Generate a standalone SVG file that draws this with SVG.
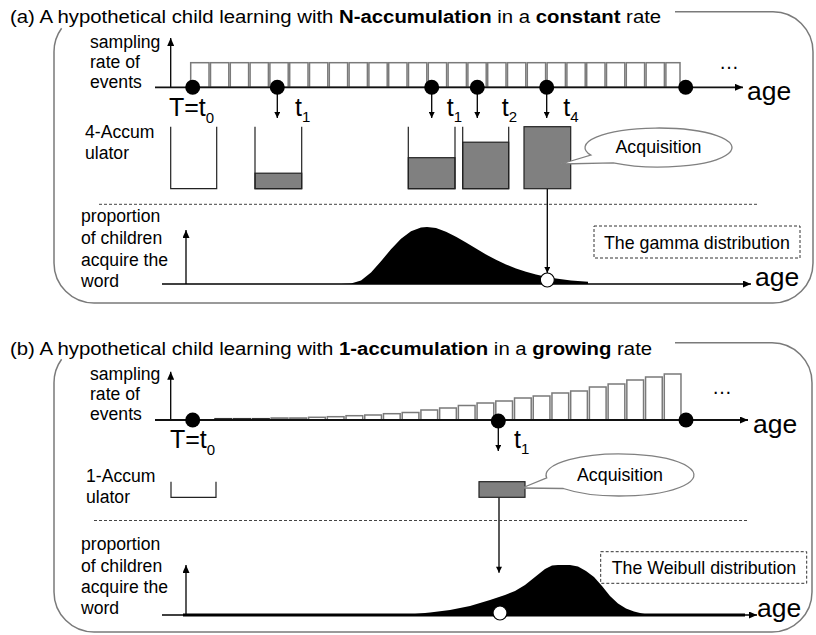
<svg xmlns="http://www.w3.org/2000/svg" width="816" height="635" viewBox="0 0 816 635">
<style>
text{font-family:"Liberation Sans",Arial,sans-serif;fill:#000}
.t{font-size:18.5px}
.l{font-size:17.6px}
.big{font-size:25px}
.sub{font-size:15px}
.age{font-size:26.5px}
.d{font-size:17.8px}
.frame{fill:none;stroke:#7a7a7a;stroke-width:1.5}
.sep{fill:none;stroke:#444;stroke-width:1;stroke-dasharray:3,2}
.bar{fill:#fff;stroke:#7a7a7a;stroke-width:1.5}
.ax{fill:none;stroke:#000;stroke-width:1.3}
.rax{fill:none;stroke:#111;stroke-width:1.8}
.cont{fill:none;stroke:#222;stroke-width:1.2}
.fill{fill:#808080;stroke:#222;stroke-width:1.2}
.dot{fill:#000}
.call{fill:#fff;stroke:#808080;stroke-width:1.3}
.box{fill:#fff;stroke:#333;stroke-width:1;stroke-dasharray:3,2}
</style>
<defs>
<marker id="ah" viewBox="0 0 8 7" refX="8" refY="3.5" markerWidth="8" markerHeight="7" markerUnits="userSpaceOnUse" orient="auto"><path d="M0,0 L8,3.5 L0,7 z" fill="#000"/></marker>
<marker id="ahs" viewBox="0 0 7 7" refX="7" refY="3.5" markerWidth="7" markerHeight="6" markerUnits="userSpaceOnUse" orient="auto"><path d="M0,0 L7,3.5 L0,7 z" fill="#000"/></marker>
</defs>
<rect width="816" height="635" fill="#fff"/>

<!-- ============ PANEL A ============ -->
<g id="panelA">
<path class="frame" d="M675 11.7 H773 A40 40 0 0 1 813 51.7 V263 A40 40 0 0 1 773 303 H94 A40 40 0 0 1 54 263 V51.7 A40 40 0 0 1 61.6 28.3"/>
<text class="t" transform="translate(10 23) scale(1.1 1)" x="0" y="0">(a) A hypothetical child learning with <tspan font-weight="bold">N-accumulation</tspan> in a <tspan font-weight="bold">constant</tspan> rate</text>
</g>

<g id="rateA">
<text class="l" x="90" y="47.5">sampling</text>
<text class="l" x="90" y="67.5">rate of</text>
<text class="l" x="90" y="87.5">events</text>
<g id="barsA">
<rect class="bar" x="190.7" y="62.7" width="18.3" height="24.6"/>
<rect class="bar" x="210.5" y="62.7" width="18.3" height="24.6"/>
<rect class="bar" x="230.3" y="62.7" width="18.3" height="24.6"/>
<rect class="bar" x="250.1" y="62.7" width="18.3" height="24.6"/>
<rect class="bar" x="269.9" y="62.7" width="18.3" height="24.6"/>
<rect class="bar" x="289.7" y="62.7" width="18.3" height="24.6"/>
<rect class="bar" x="309.5" y="62.7" width="18.3" height="24.6"/>
<rect class="bar" x="329.3" y="62.7" width="18.3" height="24.6"/>
<rect class="bar" x="349.1" y="62.7" width="18.3" height="24.6"/>
<rect class="bar" x="368.9" y="62.7" width="18.3" height="24.6"/>
<rect class="bar" x="388.7" y="62.7" width="18.3" height="24.6"/>
<rect class="bar" x="408.5" y="62.7" width="18.3" height="24.6"/>
<rect class="bar" x="428.3" y="62.7" width="18.3" height="24.6"/>
<rect class="bar" x="448.1" y="62.7" width="18.3" height="24.6"/>
<rect class="bar" x="467.9" y="62.7" width="18.3" height="24.6"/>
<rect class="bar" x="487.7" y="62.7" width="18.3" height="24.6"/>
<rect class="bar" x="507.5" y="62.7" width="18.3" height="24.6"/>
<rect class="bar" x="527.3" y="62.7" width="18.3" height="24.6"/>
<rect class="bar" x="547.1" y="62.7" width="18.3" height="24.6"/>
<rect class="bar" x="566.9" y="62.7" width="18.3" height="24.6"/>
<rect class="bar" x="586.7" y="62.7" width="18.3" height="24.6"/>
<rect class="bar" x="606.5" y="62.7" width="18.3" height="24.6"/>
<rect class="bar" x="626.3" y="62.7" width="18.3" height="24.6"/>
<rect class="bar" x="646.1" y="62.7" width="18.3" height="24.6"/>
<rect class="bar" x="665.9" y="62.7" width="14.1" height="24.6"/>
</g>
<text x="719" y="69" style="font-size:20px">…</text>
<text class="age" x="747" y="100">age</text>
</g>

<g id="connectorsA">
<path class="ax" d="M170.7 87.3 V38" marker-end="url(#ah)"/>
<path class="rax" d="M155 87.3 H743" marker-end="url(#ah)"/>
<path class="ax" d="M277.3 87.3 V118" marker-end="url(#ahs)"/>
<path class="ax" d="M431.7 87.3 V118" marker-end="url(#ahs)"/>
<path class="ax" d="M477.3 87.3 V118" marker-end="url(#ahs)"/>
<path class="ax" d="M546.7 87.3 V118" marker-end="url(#ahs)"/>
<path class="ax" d="M547.3 188.7 V273" marker-end="url(#ahs)"/>
<path class="ax" d="M186 284 V230" marker-end="url(#ah)"/>
<path class="ax" d="M162 284 H751" marker-end="url(#ah)"/>
</g>

<g id="eventsA">
<circle class="dot" cx="192.7" cy="87.3" r="7.5"/>
<circle class="dot" cx="277.3" cy="87.3" r="7.5"/>
<circle class="dot" cx="431.7" cy="87.3" r="7.5"/>
<circle class="dot" cx="477.3" cy="87.3" r="7.5"/>
<circle class="dot" cx="546.7" cy="87.3" r="7.5"/>
<circle class="dot" cx="685.7" cy="87.3" r="7.5"/>
<text class="big" x="169" y="116">T=t<tspan class="sub" dy="7">0</tspan></text>
<text class="big" x="295" y="116">t<tspan class="sub" dy="6">1</tspan></text>
<text class="big" x="446.7" y="116">t<tspan class="sub" dy="6">1</tspan></text>
<text class="big" x="501.7" y="116">t<tspan class="sub" dy="6">2</tspan></text>
<text class="big" x="563.3" y="116">t<tspan class="sub" dy="6">4</tspan></text>
</g>

<g id="accumA">
<text class="l" x="85" y="138">4-Accum</text>
<text class="l" x="85" y="159">ulator</text>
<path class="cont" d="M170.7 126.7 V188.7 H216.7 V126.7"/>
<rect class="fill" x="255" y="173.2" width="46.7" height="15.5"/>
<path class="cont" d="M255 126.7 V188.7 H301.7 V126.7"/>
<rect class="fill" x="408.3" y="157.7" width="46.7" height="31"/>
<path class="cont" d="M408.3 126.7 V188.7 H455 V126.7"/>
<rect class="fill" x="462.7" y="142.2" width="46" height="46.5"/>
<path class="cont" d="M462.7 126.7 V188.7 H508.7 V126.7"/>
<rect class="fill" x="524" y="126.7" width="46.7" height="62"/>
</g>

<g id="calloutA">
<path class="call" d="M613.25 162.87 L561 164 L590.84 155.12 A73.5 19.5 0 1 1 613.25 162.87 Z"/>
<text class="d" x="658.5" y="153" text-anchor="middle">Acquisition</text>
</g>

<path class="sep" d="M99 204.3 H758"/>

<g id="distA">
<text class="l" x="81" y="222">proportion</text>
<text class="l" x="81" y="244">of children</text>
<text class="l" x="81" y="265.5">acquire the</text>
<text class="l" x="81" y="286.5">word</text>
<path fill="#000" d="M341 284 L351 283.6 L361 280.4 L371 272.6 L381 261.3 L391 249.2 L401 238.7 L411 231.3 L421 227.6 L427 227 L436 228.1 L446 231.7 L456 236.7 L466 242.6 L476 248.6 L486 254.4 L496 259.7 L506 264.4 L516 268.4 L526 271.8 L536 274.5 L547 276.9 L556 278.5 L571 280.4 L588 281.8 L588 284 Z"/>
<circle cx="547.3" cy="280" r="7" fill="#fff" stroke="#000" stroke-width="1.2"/>
<rect class="box" x="594" y="226" width="206" height="32"/>
<text class="d" x="604" y="248.5">The gamma distribution</text>
<text class="age" x="755" y="286">age</text>
</g>

<!-- ============ PANEL B ============ -->
<g id="panelB">
<path class="frame" d="M675 342.7 H772 A40 40 0 0 1 812 382.7 V592 A40 40 0 0 1 772 632 H94 A40 40 0 0 1 54 592 V382.7 A40 40 0 0 1 61.6 359.3"/>
<text class="t" transform="translate(10 355) scale(1.1 1)" x="0" y="0">(b) A hypothetical child learning with <tspan font-weight="bold">1-accumulation</tspan> in a <tspan font-weight="bold">growing</tspan> rate</text>
</g>

<g id="rateB">
<text class="l" x="90" y="379.5">sampling</text>
<text class="l" x="90" y="399.5">rate of</text>
<text class="l" x="90" y="419.5">events</text>
<g id="barsB">
<rect x="215" y="418.7" width="16.7" height="1.3" fill="#333" stroke="#333" stroke-width="1.5"/>
<rect x="233.72" y="418.7" width="16.7" height="1.3" fill="#333" stroke="#333" stroke-width="1.5"/>
<rect x="252.44" y="418.7" width="16.7" height="1.3" fill="#333" stroke="#333" stroke-width="1.5"/>
<rect x="271.16" y="418" width="16.7" height="2" fill="#999" stroke="#777" stroke-width="1.5"/>
<rect x="289.88" y="418" width="16.7" height="2" fill="#999" stroke="#777" stroke-width="1.5"/>
<rect class="bar" x="308.6" y="417.3" width="16.7" height="2.7"/>
<rect class="bar" x="327.32" y="416.7" width="16.7" height="3.3"/>
<rect class="bar" x="346.04" y="415.7" width="16.7" height="4.3"/>
<rect class="bar" x="364.76" y="415" width="16.7" height="5"/>
<rect class="bar" x="383.48" y="413.7" width="16.7" height="6.3"/>
<rect class="bar" x="402.2" y="412.5" width="16.7" height="7.5"/>
<rect class="bar" x="420.92" y="410" width="16.7" height="10"/>
<rect class="bar" x="439.64" y="408" width="16.7" height="12"/>
<rect class="bar" x="458.36" y="405.5" width="16.7" height="14.5"/>
<rect class="bar" x="477.08" y="403" width="16.7" height="17"/>
<rect class="bar" x="495.8" y="401" width="16.7" height="19"/>
<rect class="bar" x="514.52" y="398" width="16.7" height="22"/>
<rect class="bar" x="533.24" y="396" width="16.7" height="24"/>
<rect class="bar" x="551.96" y="393" width="16.7" height="27"/>
<rect class="bar" x="570.68" y="391" width="16.7" height="29"/>
<rect class="bar" x="589.4" y="387" width="16.7" height="33"/>
<rect class="bar" x="608.12" y="384" width="16.7" height="36"/>
<rect class="bar" x="626.84" y="380" width="16.7" height="40"/>
<rect class="bar" x="645.56" y="377" width="16.7" height="43"/>
<rect class="bar" x="664.28" y="374" width="16.7" height="46"/>
</g>
<text x="712" y="394" style="font-size:20px">…</text>
<text class="age" x="753" y="432.5">age</text>
</g>

<g id="connectorsB">
<path class="ax" d="M170.7 420 V371.7" marker-end="url(#ah)"/>
<path class="rax" d="M155 420 H748" marker-end="url(#ah)"/>
<path class="ax" d="M498.3 421 V451" marker-end="url(#ahs)"/>
<path class="ax" d="M499 497.3 V572.7" marker-end="url(#ahs)"/>
<path class="ax" d="M186 615 V565" marker-end="url(#ah)"/>
<path class="ax" d="M162 615 H757" marker-end="url(#ah)"/>
</g>

<g id="eventsB">
<circle class="dot" cx="192.7" cy="420" r="7.5"/>
<circle class="dot" cx="498.3" cy="421" r="7.5"/>
<circle class="dot" cx="686" cy="420" r="7.5"/>
<text class="big" x="170" y="448">T=t<tspan class="sub" dy="7">0</tspan></text>
<text class="big" x="514" y="448">t<tspan class="sub" dy="6">1</tspan></text>
</g>

<g id="accumB">
<text class="l" x="86" y="482">1-Accum</text>
<text class="l" x="86" y="503">ulator</text>
<path class="cont" d="M171 481.7 V497.3 H216 V481.7"/>
<rect class="fill" x="479" y="481.7" width="46" height="15.6"/>
</g>

<g id="calloutB">
<path class="call" d="M563.31 488.5 L522 488 L546.72 477.92 A74 21 0 1 1 563.31 488.5 Z"/>
<text class="d" x="620" y="481" text-anchor="middle">Acquisition</text>
</g>

<path class="sep" d="M94 520.5 H748"/>

<g id="distB">
<text class="l" x="81" y="550">proportion</text>
<text class="l" x="81" y="571.5">of children</text>
<text class="l" x="81" y="593">acquire the</text>
<text class="l" x="81" y="613.5">word</text>
<rect x="183" y="613.5" width="562" height="3" fill="#000"/>
<path fill="#000" d="M405 615 L430 612.5 L450 610 L470 606 L490 600 L505 595 L515 591 L525 585 L535 577 L545 569 L552 565.5 L558 565 L570 565 L578 566.5 L586 571 L594 577 L602 586 L610 596 L618 603.5 L626 608.5 L634 611.5 L642 613.5 L650 615 Z"/>
<circle cx="500" cy="613" r="7" fill="#fff" stroke="#000" stroke-width="1.2"/>
<rect class="box" x="600.7" y="551.7" width="206" height="31.6"/>
<text class="d" x="611.7" y="574">The Weibull distribution</text>
<text class="age" x="757" y="617">age</text>
</g>
</svg>
